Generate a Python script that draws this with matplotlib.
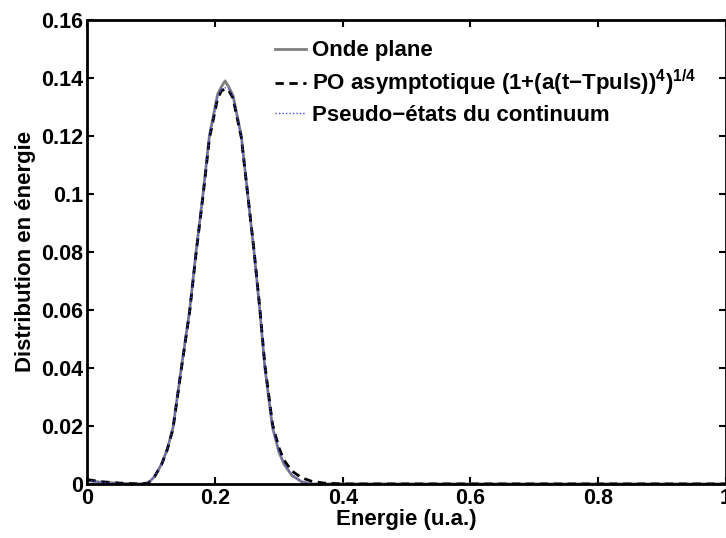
import matplotlib
matplotlib.use("Agg")
import matplotlib.pyplot as plt

# energy grid (u.a.) and distributions
energy = [0.0, 0.02, 0.05, 0.08, 0.095, 0.105, 0.116, 0.125, 0.134, 0.147,
          0.160, 0.170, 0.181, 0.191, 0.204, 0.210, 0.2156, 0.221, 0.228,
          0.241, 0.251, 0.261, 0.270, 0.278, 0.290, 0.300, 0.308, 0.320,
          0.335, 0.350, 0.370, 0.400, 0.500, 0.600, 0.700, 0.800, 0.900, 1.0]
onde_plane = [0.0012, 0.0006, 0.0002, 0.0, 0.0003, 0.0025, 0.0068, 0.0120,
              0.0194, 0.0400, 0.0597, 0.0798, 0.0999, 0.1200, 0.1344, 0.1370,
              0.1390, 0.1370, 0.1340, 0.1200, 0.1000, 0.0800, 0.0600, 0.0400,
              0.0194, 0.0110, 0.0068, 0.0030, 0.0008, 0.0, 0.0, 0.0, 0.0,
              0.0, 0.0, 0.0, 0.0, 0.0]
po_asymptotique = [0.0015, 0.0008, 0.0003, 0.0, 0.0003, 0.0025, 0.0066,
                   0.0118, 0.0190, 0.0395, 0.0592, 0.0792, 0.0992, 0.1190,
                   0.1330, 0.1355, 0.1362, 0.1358, 0.1330, 0.1195, 0.1000,
                   0.0805, 0.0608, 0.0410, 0.0205, 0.0125, 0.0082, 0.0045,
                   0.0022, 0.0010, 0.0003, 0.0, 0.0, 0.0, 0.0, 0.0, 0.0, 0.0]
pseudo_etats = [0.0012, 0.0006, 0.0002, 0.0, 0.0003, 0.0025, 0.0067, 0.0119,
                0.0192, 0.0398, 0.0595, 0.0795, 0.0996, 0.1195, 0.1338,
                0.1362, 0.1366, 0.1362, 0.1336, 0.1198, 0.1000, 0.0802,
                0.0604, 0.0405, 0.0198, 0.0114, 0.0070, 0.0032, 0.0009, 0.0,
                0.0, 0.0, 0.0, 0.0, 0.0, 0.0, 0.0, 0.0]

x_ticks = [0, 0.2, 0.4, 0.6, 0.8, 1]
x_ticklabels = ["0", "0.2", "0.4", "0.6", "0.8", "1"]
y_ticks = [0, 0.02, 0.04, 0.06, 0.08, 0.1, 0.12, 0.14, 0.16]
y_ticklabels = ["0", "0.02", "0.04", "0.06", "0.08", "0.1", "0.12", "0.14", "0.16"]

plt.rcParams["font.family"] = ["Liberation Sans", "DejaVu Sans"]
plt.rcParams["font.weight"] = "bold"
plt.rcParams["mathtext.fontset"] = "custom"
plt.rcParams["mathtext.bf"] = "Liberation Sans:bold"
plt.rcParams["mathtext.rm"] = "Liberation Sans:bold"

fig = plt.figure(figsize=(7.26, 5.38), dpi=100)
ax = fig.add_axes([0.1205, 0.1005, 0.879, 0.8625])

ax.plot(energy, onde_plane, color="#808080", lw=2.0, label="Onde plane")
ax.plot(energy, po_asymptotique, color="black", lw=2.0, ls=(0, (3, 2)),
        label=r"PO asymptotique (1+(a(t$-$Tpuls))$^{\mathbf{4}}$)$^{\mathbf{1/4}}$")
ax.plot(energy, pseudo_etats, color="#4a4aff", lw=1.0, ls=(0, (1, 1.5)),
        label="Pseudo\u2212états du continuum")

ax.set_xlim(0, 1)
ax.set_ylim(0, 0.16)
ax.set_xticks(x_ticks)
ax.set_xticklabels(x_ticklabels)
ax.set_yticks(y_ticks)
ax.set_yticklabels(y_ticklabels)
ax.tick_params(direction="in", length=5, width=1.5, labelsize=15.5, pad=3,
               top=True, right=True)
for spine in ax.spines.values():
    spine.set_linewidth(2)

ax.set_xlabel("Energie (u.a.)", fontsize=16, fontweight="bold", labelpad=0)
ax.set_ylabel("Distribution en énergie", fontsize=16, fontweight="bold",
              labelpad=4)

leg = ax.legend(loc="upper left", bbox_to_anchor=(0.28, 0.975), frameon=False,
                fontsize=16, handlelength=1.4, handletextpad=0.25,
                labelspacing=0.3, borderaxespad=0)

fig.savefig("out.png", dpi=100)
